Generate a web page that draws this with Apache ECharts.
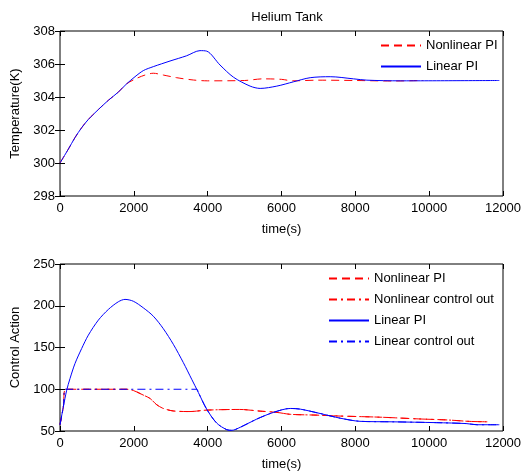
<!DOCTYPE html>
<html><head><meta charset="utf-8">
<script src="https://cdn.jsdelivr.net/npm/echarts@6/dist/echarts.min.js"></script>
<style>html,body{margin:0;padding:0;background:#fff}#c{width:530px;height:472px}</style>
</head><body><div id="c"></div>
<script>
// ---- Top plot: Helium Tank temperature ----
const tempLinT = [0, 226, 406, 587, 768, 1039, 1310, 1581, 1806, 2032, 2257, 2528, 2980, 3431, 3792, 3973, 4334, 4699, 5150, 5422, 5873, 6325, 6777, 7319, 7952, 8313, 9217, 11900];
const tempLinV = [300.0, 300.84, 301.54, 302.14, 302.64, 303.24, 303.8, 304.3, 304.8, 305.23, 305.6, 305.84, 306.18, 306.5, 306.81, 306.78, 305.94, 305.2, 304.66, 304.52, 304.66, 304.92, 305.17, 305.23, 305.1, 305.02, 304.98, 305.0];
const tempNonT = [0, 226, 406, 587, 768, 1039, 1310, 1581, 1806, 2077, 2302, 2528, 2800, 3160, 3612, 4000, 5000, 5500, 6000, 6300, 7000, 8000, 9000, 9830];
const tempNonV = [300.0, 300.84, 301.54, 302.14, 302.64, 303.24, 303.8, 304.3, 304.8, 305.13, 305.33, 305.44, 305.33, 305.17, 305.03, 304.98, 305.0, 305.1, 305.07, 304.98, 305.02, 305.0, 304.97, 305.0];

// ---- Bottom plot: control action ----
const ctlLinT = [0, 90, 181, 271, 406, 587, 768, 1039, 1310, 1581, 1761, 1986, 2257, 2528, 2799, 3070, 3341, 3567, 3747, 3973, 4244, 4515, 4650, 4880, 5331, 5783, 6235, 6506, 7043, 7585, 8126, 9000, 10200, 11000, 11300, 11900];
const ctlLinV = [57.6, 78.8, 98.8, 112.8, 130.8, 148.8, 164.8, 182.8, 195.6, 204.8, 207.6, 205.4, 197.5, 187.5, 172.5, 153.8, 131.9, 112, 96.2, 76.2, 59.5, 51.6, 50.8, 54.4, 64.3, 72.3, 77, 76.2, 71, 65.4, 61.6, 61, 60, 58.9, 57.5, 57.5];
const ctlLinOutT = [0, 90, 150, 3702, 3747, 3973, 4244, 4515, 4650, 4880, 5331, 5783, 6235, 6506, 7043, 7585, 8126, 9000, 10200, 11000, 11300, 11900];
const ctlLinOutV = [57.6, 78.8, 100, 100, 96.2, 76.2, 59.5, 51.6, 50.8, 54.4, 64.3, 72.3, 77, 76.2, 71, 65.4, 61.6, 61, 60, 58.9, 57.5, 57.5];
const ctlNonT = [0, 90, 150, 1800, 1986, 2257, 2438, 2619, 2799, 3070, 3522, 3973, 4876, 5422, 5873, 6235, 6958, 7585, 8700, 9700, 10500, 11100, 11600];
const ctlNonV = [57.6, 78.8, 100, 100, 98.5, 93, 89, 81.5, 77, 74, 73.3, 75, 75.8, 73.8, 72.3, 70, 69, 67.9, 66.5, 64.5, 63.2, 61.5, 61];

const xTicks = [0, 2000, 4000, 6000, 8000, 10000, 12000];
const topYTicks = [298, 300, 302, 304, 306, 308];
const botYTicks = [50, 100, 150, 200, 250];

const zip = (a, b) => a.map((t, i) => [t, b[i]]);
const RED = '#ff0000', BLUE = '#0000ff';
const FONT = 'Liberation Sans';
const txt = {color: '#000', fontFamily: FONT, fontSize: 13};
const DASH = [8, 5];
const DASHDOT = [8, 4, 2, 4];

function xAx(gi, pos, show) {
  return {gridIndex: gi, type: 'value', position: pos, min: xTicks[0], max: xTicks[xTicks.length - 1], interval: 2000,
    axisLine: {show: false}, splitLine: {show: false},
    axisTick: {show: true, inside: true, length: 5, lineStyle: {color: '#000'}},
    axisLabel: {show: show, ...txt, margin: 6, formatter: v => String(v)},
    name: show ? 'time(s)' : '', nameLocation: 'middle', nameGap: 27, nameTextStyle: txt};
}
function yAx(gi, pos, show, ticks, name) {
  return {gridIndex: gi, type: 'value', position: pos, min: ticks[0], max: ticks[ticks.length - 1], interval: ticks[1] - ticks[0],
    axisLine: {show: false}, splitLine: {show: false},
    axisTick: {show: true, inside: true, length: 5, lineStyle: {color: '#000'}},
    axisLabel: {show: show, ...txt, margin: 5, formatter: v => String(v)},
    name: show ? name : '', nameLocation: 'middle', nameGap: 37, nameTextStyle: txt};
}
function ser(name, x, y, t, v, color, type) {
  return {name: name, type: 'line', xAxisIndex: x, yAxisIndex: y, data: zip(t, v), symbol: 'none', smooth: 0.3,
    lineStyle: {color: color, width: 1, type: type}, itemStyle: {color: color}, animation: false};
}

const chart = echarts.init(document.getElementById('c'));
chart.setOption({
  animation: false,
  backgroundColor: '#fff',
  title: {text: 'Helium Tank', left: 282, top: 6, textAlign: 'center',
    textStyle: {...txt, fontWeight: 'normal'}},
  grid: [
    {left: 60, top: 31, width: 443, height: 165, show: true, borderColor: '#000', borderWidth: 1, backgroundColor: '#fff'},
    {left: 60, top: 264, width: 443, height: 168, show: true, borderColor: '#000', borderWidth: 1, backgroundColor: '#fff'}
  ],
  xAxis: [xAx(0, 'bottom', true), xAx(0, 'top', false), xAx(1, 'bottom', true), xAx(1, 'top', false)],
  yAxis: [yAx(0, 'left', true, topYTicks, 'Temperature(K)'), yAx(0, 'right', false, topYTicks, ''),
          yAx(1, 'left', true, botYTicks, 'Control Action'), yAx(1, 'right', false, botYTicks, '')],
  legend: [
    {data: ['Nonlinear PI', 'Linear PI'], orient: 'vertical', left: 380, top: 39, itemWidth: 40, itemHeight: 13, itemGap: 8,
      itemStyle: {opacity: 0}, textStyle: txt, padding: 0},
    {data: ['Nonlinear PI ', 'Nonlinear control out', 'Linear PI ', 'Linear control out'], orient: 'vertical', left: 328, top: 272,
      itemWidth: 40, itemHeight: 13, itemGap: 8, itemStyle: {opacity: 0}, textStyle: txt, padding: 0}
  ],
  series: [
    ser('Nonlinear PI', 0, 0, tempNonT, tempNonV, RED, DASH),
    ser('Linear PI', 0, 0, tempLinT, tempLinV, BLUE, 'solid'),
    ser('Nonlinear PI ', 2, 2, ctlNonT, ctlNonV, RED, DASH),
    ser('Nonlinear control out', 2, 2, ctlNonT, ctlNonV, RED, DASHDOT),
    ser('Linear PI ', 2, 2, ctlLinT, ctlLinV, BLUE, 'solid'),
    ser('Linear control out', 2, 2, ctlLinOutT, ctlLinOutV, BLUE, DASHDOT)
  ]
});
</script></body></html>
